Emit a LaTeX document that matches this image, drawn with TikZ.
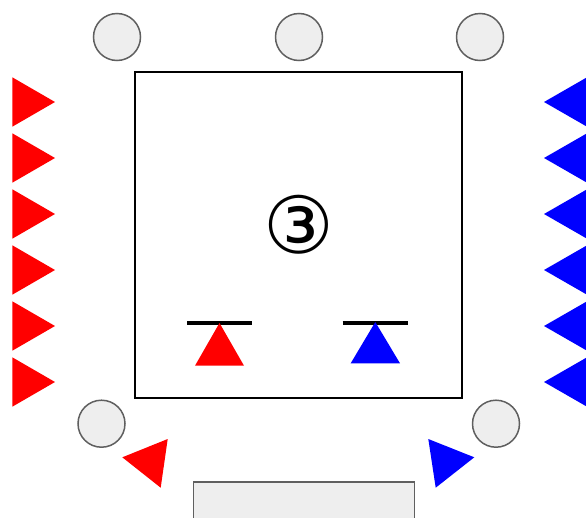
\documentclass[tikz,border=0pt]{standalone}
\usepackage{fontspec}
\newfontfamily\symfont{DejaVu Sans}
\definecolor{lgray}{HTML}{EEEEEE}
\definecolor{dgray}{HTML}{5F5F5F}
\begin{document}
\begin{tikzpicture}[x=1pt,y=-1pt,
  seat/.style={circle,draw=dgray,fill=lgray,line width=1.5pt,minimum size=47pt,inner sep=0pt}]
\useasboundingbox (0,0) rectangle (586,517);
\clip (0,0) rectangle (586,517);
% top seats
\node[seat] (s1) at (117,37) {};
\node[seat] (s2) at (299,37) {};
\node[seat] (s3) at (480,37) {};
% bottom seats
\node[seat] (s4) at (101.5,423.7) {};
\node[seat] (s5) at (496,423.7) {};
% main box
\draw[line width=1.3pt] (135,72) rectangle (462,398);
\node[font=\symfont\fontsize{79}{79}\selectfont,inner sep=0pt] (num) at (299,225) {③};
% side triangles
\foreach \c in {102,158,214,270,326,382}{
  \fill[red] (12.3,\c-24.7) -- (55,\c) -- (12.3,\c+24.7) -- cycle;
  \fill[blue] (587,\c-24.7) -- (544,\c) -- (587,\c+24.7) -- cycle;
}
% inner markers
\draw[line width=3.2pt] (187.3,323) -- (251.7,323);
\fill[red] (219.5,323) -- (244,365.7) -- (195,365.7) -- cycle;
\draw[line width=3.2pt] (342.7,323) -- (407.7,323);
\fill[blue] (375.3,322) -- (400,363.3) -- (350.7,363.3) -- cycle;
% tilted triangles
\fill[red] (122.3,457.3) -- (167.7,439) -- (160.7,487.7) -- cycle;
\fill[blue] (428.3,439) -- (474.3,457.3) -- (435.7,487.7) -- cycle;
% bottom box
\draw[draw=dgray,fill=lgray,line width=1.3pt] (193.3,482) rectangle (414.3,530);
\end{tikzpicture}
\end{document}
